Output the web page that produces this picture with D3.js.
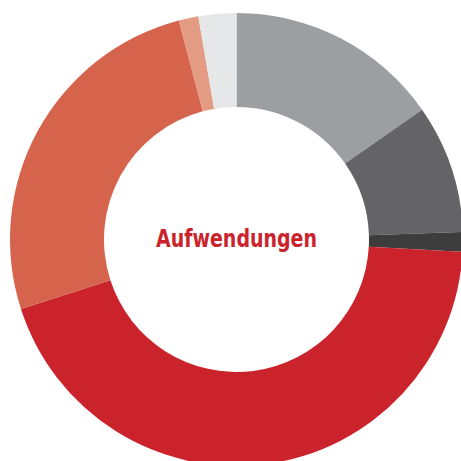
<!DOCTYPE html>
<html>
<head>
<meta charset="utf-8">
<script src="https://cdn.jsdelivr.net/npm/d3@7"></script>
<style>
	html, body { margin: 0; padding: 0; background: #fff; }
	svg { display: block; }
	.center-label { font-family: "Liberation Sans Narrow", "DejaVu Sans Condensed", "Roboto", sans-serif; font-weight: bold; }
</style>
</head>
<body>
<svg id="donut" width="461" height="461" viewBox="0 0 461 461"></svg>
<script>

// shares of the expense categories, clockwise from 12 o'clock (percent)
const categories = ["A", "B", "C", "D", "E", "F", "G"];
const shares = [15.3, 9.2, 1.4, 44.2, 25.9, 1.4, 2.7];
const colors = ["#9d9ea1", "#646466", "#3d3d3e", "#cb232b", "#d6644c", "#e39b83", "#e6e7e9"];
const title = "Aufwendungen";

function drawDonut() {
	const svg = d3.select("#donut");

	const cx = 236.5, cy = 239.5;
	const outer_r = 226.5, inner_r = 132.5;

	const pie = d3.pie()
		.sort(null)
		.value(d => d.value);

	const arc = d3.arc()
		.innerRadius(inner_r)
		.outerRadius(outer_r);

	const data = categories.map((c, i) => ({ name: c, value: shares[i], color: colors[i] }));

	const g = svg.append("g")
		.attr("transform", "translate(" + cx + "," + cy + ")");

	g.selectAll("path")
		.data(pie(data))
		.enter()
		.append("path")
		.attr("d", arc)
		.style("fill", d => d.data.color);

	// centre title, squeezed to the width of the original condensed face
	g.append("text")
		.attr("class", "center-label")
		.attr("x", 0)
		.attr("y", 7)
		.attr("text-anchor", "middle")
		.attr("font-size", 25)
		.attr("textLength", 161)
		.attr("lengthAdjust", "spacingAndGlyphs")
		.style("fill", "#cb232b")
		.text(title);
}

drawDonut();
</script>
</body>
</html>
